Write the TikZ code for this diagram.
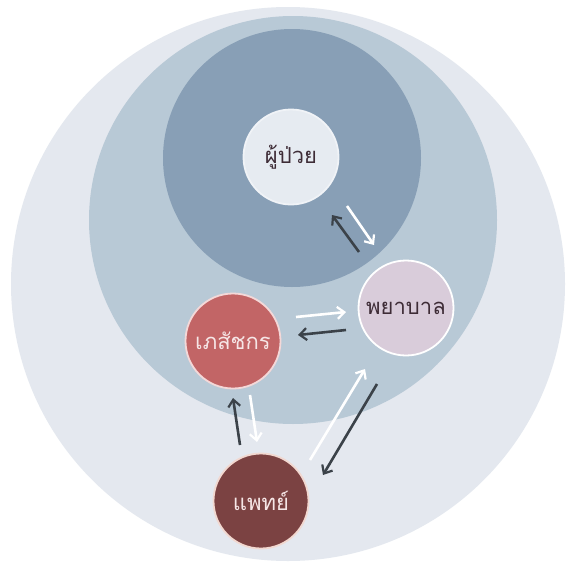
\documentclass[tikz,border=0pt]{standalone}
\usepackage{fontspec}
\newfontfamily\thaifont[Script=Thai]{Loma}
\usetikzlibrary{arrows.meta}
\definecolor{ringouter}{HTML}{E4E8EF}
\definecolor{ringmid}{HTML}{B8C9D6}
\definecolor{ringinner}{HTML}{889FB6}
\definecolor{patientfill}{HTML}{E6EBF1}
\definecolor{nursefill}{HTML}{D9CCDA}
\definecolor{pharmfill}{HTML}{C26566}
\definecolor{pharmedge}{HTML}{F4D8D8}
\definecolor{doctorfill}{HTML}{7B4242}
\definecolor{doctoredge}{HTML}{F2D8D0}
\definecolor{darktext}{HTML}{3E2C36}
\definecolor{lighttext}{HTML}{F6E6E6}
\definecolor{arrowdark}{HTML}{3B4249}
\tikzset{
  role/.style={circle, minimum size=95pt, inner sep=0pt, line width=1.8pt,
    font=\thaifont\fontsize{22}{24}\selectfont},
  darkarrow/.style={draw=arrowdark, line width=2.6pt,
    -{Straight Barb[length=7pt,width=12pt,line width=2.2pt]}},
  lightarrow/.style={draw=white, line width=2.6pt,
    -{Straight Barb[length=7pt,width=12pt,line width=2.2pt]}}
}
\begin{document}
\begin{tikzpicture}[x=1pt,y=-1pt]
  \useasboundingbox (0,0) rectangle (566,570);
  \fill[white] (0,0) rectangle (566,570);
  % nested rings
  \fill[ringouter] (288,284) circle[radius=277];
  \fill[ringmid] (293,220) circle[radius=204];
  \fill[ringinner] (292,158) circle[radius=129];

  % people
  \node[role, fill=patientfill, draw=patientfill!60!white, text=darktext] (patient) at (291,157) {ผู้ป่วย};
  \node[role, fill=nursefill, draw=white, text=darktext] (nurse) at (406,308) {พยาบาล};
  \node[role, fill=pharmfill, draw=pharmedge, text=lighttext] (pharm) at (233,341) {เภสัชกร};
  \node[role, fill=doctorfill, draw=doctoredge, text=lighttext] (doctor) at (261,501) {แพทย์};

  % arrow end points
  \coordinate (pnA) at (359,252);
  \coordinate (pnB) at (332,215);
  \coordinate (pnC) at (347,206);
  \coordinate (pnD) at (374,245);
  \coordinate (phA) at (296,317);
  \coordinate (phB) at (346,312);
  \coordinate (phC) at (346,330);
  \coordinate (phD) at (298,335);
  \coordinate (pdA) at (240,445);
  \coordinate (pdB) at (233,398);
  \coordinate (pdC) at (250,395);
  \coordinate (pdD) at (257,442);
  \coordinate (dnA) at (310,460);
  \coordinate (dnB) at (365,369);
  \coordinate (dnC) at (377,384);
  \coordinate (dnD) at (323,475);

  % exchanges
  \draw[darkarrow] (pnA) -- (pnB);
  \draw[lightarrow] (pnC) -- (pnD);
  \draw[lightarrow] (phA) -- (phB);
  \draw[darkarrow] (phC) -- (phD);
  \draw[darkarrow] (pdA) -- (pdB);
  \draw[lightarrow] (pdC) -- (pdD);
  \draw[lightarrow] (dnA) -- (dnB);
  \draw[darkarrow] (dnC) -- (dnD);
\end{tikzpicture}
\end{document}
